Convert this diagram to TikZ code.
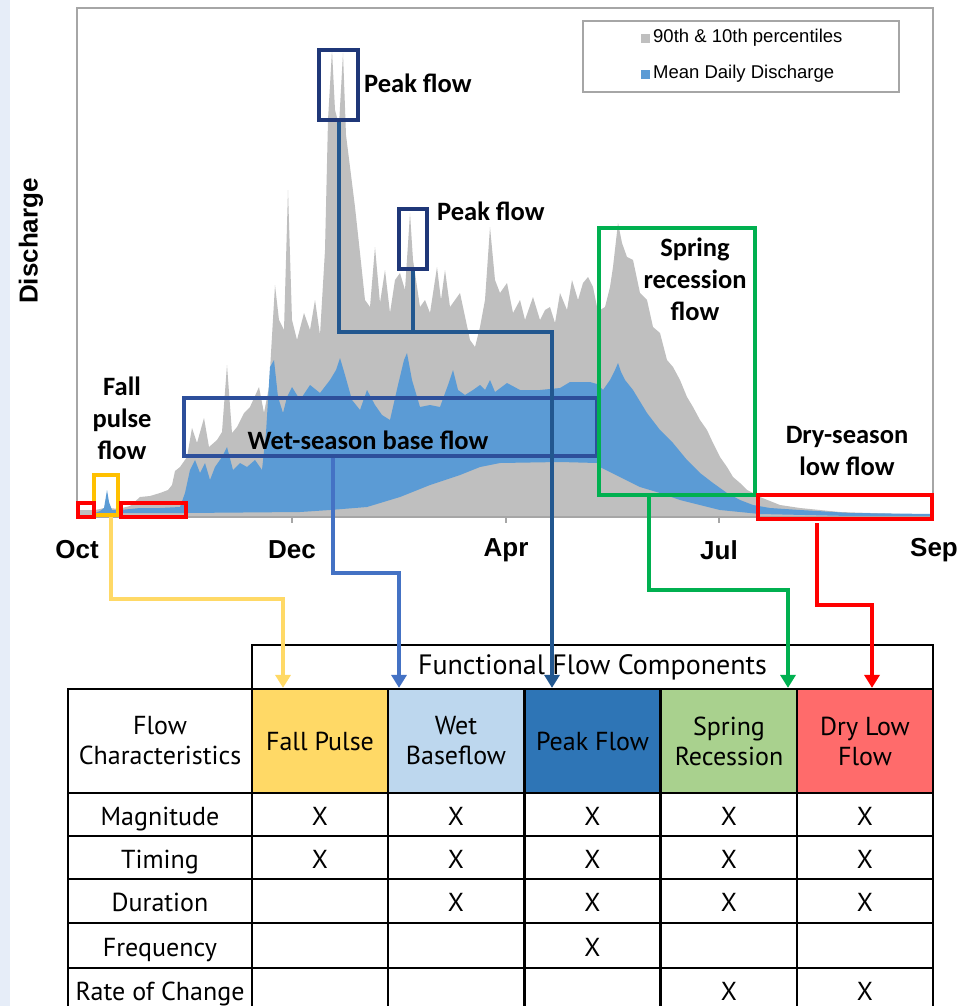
\documentclass[tikz,border=0pt]{standalone}
\usepackage{fontspec}
\setmainfont{Carlito}
\newfontfamily\arialfont{Liberation Sans}
\newfontfamily\tabfont{PT Sans}
\usetikzlibrary{arrows.meta,positioning}
\definecolor{grayfill}{HTML}{BFBFBF}
\definecolor{bluefill}{HTML}{5B9BD5}
\definecolor{framegray}{HTML}{A6A6A6}
\definecolor{navyline}{HTML}{1F3778}
\definecolor{wetline}{HTML}{2D4F9B}
\definecolor{wetarrow}{HTML}{4472C4}
\definecolor{peakline}{HTML}{22578F}
\definecolor{fallline}{HTML}{FFC000}
\definecolor{fallarrow}{HTML}{FFD966}
\definecolor{springline}{HTML}{00B050}
\definecolor{dryline}{HTML}{FF0000}
\definecolor{fallc}{HTML}{FFD966}
\definecolor{wetc}{HTML}{BDD7EE}
\definecolor{peakc}{HTML}{2E75B6}
\definecolor{springc}{HTML}{A9D18E}
\definecolor{dryc}{HTML}{FF6B6B}
\definecolor{pageblue}{HTML}{E6EDF8}
\tikzset{flowbox/.style={draw=#1, line width=3.2, inner sep=0}}
\tikzset{conn/.style={draw=#1, line width=4, -{Triangle[width=15pt,length=13pt]}}}
\tikzset{cell/.style={draw, line width=2.2, inner sep=0, align=center, font=\tabfont\fontsize{26}{30}\selectfont}}
\tikzset{rowcell/.style={cell, text height=22, text depth=1}}
\tikzset{lbl/.style={font=\bfseries\fontsize{26.5}{32}\selectfont, align=center, inner sep=0}}
\tikzset{axlbl/.style={font=\arialfont\bfseries\fontsize{26}{30}\selectfont, inner sep=0}}

\begin{document}
\begin{tikzpicture}[x=1pt, y=-1pt]
	\useasboundingbox (0,0) rectangle (959,1006);
	\fill[pageblue] (0,0) rectangle (10,1006);
	
	% hydrograph
	\fill[grayfill] plot coordinates {(77,517) (77,510) (95,510) (100,509) (104,508) (107,505) (110,508) (118,509) (130,506) (140,497) (150,496) (160,493) (168,490) (172,485) (175,471) (180,467) (187,457) (192,428) (197,443) (204,418) (209,447) (217,440) (222,432) (227,365) (232,433) (237,427) (244,413) (250,407) (259,387) (264,413) (269,387) (275,285) (279,320) (284,330) (288,190) (292,320) (297,340) (304,313) (310,330) (315,300) (320,335) (325,250) (328,120) (332,50) (335,110) (339,125) (343,53) (346,135) (350,167) (355,207) (360,253) (365,300) (370,307) (375,247) (380,303) (385,270) (390,313) (395,280) (400,273) (405,290) (410,213) (413,260) (415,273) (420,307) (425,300) (430,313) (437,267) (441,300) (445,270) (450,307) (460,293) (470,340) (475,347) (480,327) (485,300) (490,227) (495,280) (500,293) (507,283) (513,313) (520,300) (525,320) (533,297) (540,320) (545,310) (550,307) (555,323) (560,293) (567,310) (572,280) (578,300) (583,283) (588,277) (593,287) (597,307) (600,310) (605,307) (610,287) (613,267) (618,223) (622,243) (627,257) (633,260) (640,293) (647,300) (653,327) (660,333) (667,360) (673,367) (680,380) (687,397) (693,407) (700,420) (707,430) (713,443) (720,457) (727,467) (733,477) (740,483) (747,490) (753,493) (760,497) (780,505) (800,508) (840,512) (900,514) (933,515) (933,517)} -- cycle;
	\fill[bluefill] plot coordinates {(95,513) (100,511) (104,508) (107,490) (109,502) (112,510) (120,510) (140,508) (160,508) (180,507) (185,493) (190,470) (195,460) (200,473) (205,463) (210,480) (215,467) (222,457) (227,447) (233,470) (240,463) (247,467) (255,460) (262,470) (266,433) (270,367) (274,360) (278,397) (283,413) (287,397) (292,387) (300,400) (310,385) (320,393) (330,380) (336,370) (340,358) (345,375) (352,400) (360,410) (367,390) (375,405) (382,415) (390,420) (398,385) (404,360) (407,353) (412,380) (420,407) (430,405) (440,407) (448,385) (453,370) (458,390) (465,395) (473,390) (480,385) (485,390) (490,380) (495,392) (507,383) (520,390) (540,390) (560,388) (570,382) (590,382) (597,384) (603,390) (610,380) (615,370) (618,363) (621,372) (625,380) (633,390) (647,413) (660,430) (673,443) (687,460) (700,473) (713,483) (727,493) (740,500) (753,505) (770,508) (800,510) (850,513) (933,514) (933,516) (850,516) (760,514) (740,512) (720,510) (700,505) (680,500) (660,493) (640,487) (620,477) (600,467) (597,463) (560,462) (500,463) (480,467) (460,475) (430,485) (400,497) (367,507) (330,510) (300,512) (185,513) (120,513) (95,514)} -- cycle;
	
	% frame, axis and legend
	\draw[framegray, line width=1.2] (77,517) -- (77,8) -- (933,8) -- (933,517);
	\draw[framegray, line width=1.5] (77,517) -- (933,517);
	\foreach \x in {292,506,719}
		\draw[framegray, line width=1.2] (\x,517) -- (\x,523);
	\foreach \n/\x in {Oct/77,Dec/292,Apr/506,Jul/719,Sep/934}
		\node[axlbl] (m\n) at (\x,550) {\n};
	\node[axlbl, rotate=90] (ylab) at (31,241) {Discharge};
	\node[draw=framegray, line width=1.2, minimum width=316, minimum height=71, inner sep=0] (leg) at (741,56.5) {};
	\fill[grayfill] (641,34) rectangle (650,43);
	\fill[bluefill] (641,70) rectangle (650,79);
	\node[anchor=west, inner sep=0, font=\arialfont\fontsize{18.5}{22}\selectfont] (leg1) at (653,38) {90th \& 10th percentiles};
	\node[anchor=west, inner sep=0, font=\arialfont\fontsize{18.5}{22}\selectfont] (leg2) at (653,74) {Mean Daily Discharge};
	
	% flow component boxes
	\node[flowbox=navyline, minimum width=39, minimum height=70] (PF1) at (338.5,85) {};
	\node[flowbox=navyline, minimum width=28, minimum height=60] (PF2) at (413,239) {};
	\node[flowbox=wetline, minimum width=413, minimum height=58] (WB) at (390.5,427) {};
	\node[flowbox=springline, minimum width=156, minimum height=267] (SR) at (677,361.5) {};
	\node[flowbox=fallline, minimum width=24, minimum height=40] (FP) at (106,495) {};
	\node[flowbox=dryline, minimum width=16, minimum height=14] (DLa) at (86,510) {};
	\node[flowbox=dryline, minimum width=65, minimum height=14] (DLb) at (153.5,510) {};
	\node[flowbox=dryline, minimum width=174, minimum height=24] (DL) at (845,507) {};
	
	\node[lbl, anchor=west] (tPF1) at (364,83) {Peak flow};
	\node[lbl, anchor=west] (tPF2) at (437,211) {Peak flow};
	\node[lbl] (tWB) at (368,440) {Wet-season base flow};
	\node[lbl] (tSR) at (695,279) {Spring\\recession\\flow};
	\node[lbl] (tFP) at (122,418) {Fall\\pulse\\flow};
	\node[lbl] (tDL) at (847,451) {Dry-season\\low flow};
	
	% table
	\node[cell, minimum width=681, minimum height=44, font=\tabfont\fontsize{28}{32}\selectfont] (FFC) at (592.5,667) {Functional Flow Components};
	\node[cell, minimum width=184, minimum height=104] (FChar) at (160,741) {Flow\\Characteristics};
	\foreach \n/\x/\c/\t in {H1/320/fallc/Fall Pulse, H2/456/wetc/Wet\\Baseflow, H3/592.5/peakc/Peak Flow, H4/729/springc/Spring\\Recession, H5/865/dryc/Dry Low\\Flow}
		\node[cell, fill=\c, minimum width=136, minimum height=104] (\n) at (\x,741) {\t};
	\foreach \i/\y/\h/\txt/\ma/\mb/\mc/\md/\me in {1/814.5/43/Magnitude/X/X/X/X/X, 2/857.5/43/Timing/X/X/X/X/X, 3/901/44/Duration/{}/X/X/X/X, 4/945.5/45/Frequency/{}/{}/X/{}/{}, 5/990/44/Rate of Change/{}/{}/{}/X/X}{
		\node[rowcell, minimum width=184, minimum height=\h] (R\i) at (160,\y) {\txt};
		\node[rowcell, minimum width=136, minimum height=\h] (R\i a) at (320,\y) {\ma};
		\node[rowcell, minimum width=136, minimum height=\h] (R\i b) at (456,\y) {\mb};
		\node[rowcell, minimum width=136, minimum height=\h] (R\i c) at (592.5,\y) {\mc};
		\node[rowcell, minimum width=136, minimum height=\h] (R\i d) at (729,\y) {\md};
		\node[rowcell, minimum width=136, minimum height=\h] (R\i e) at (865,\y) {\me};
	}
	
	% connectors
	\coordinate (fpbend) at (283,599);
	\coordinate (wbbend) at (399,573);
	\coordinate (pfbend) at (552,332);
	\coordinate (srbend) at (788,590);
	\coordinate (dltop) at (817,523);
	\coordinate (dlbend) at (872,605);
	\draw[conn=fallarrow] ([xshift=5]FP.south) |- (fpbend) -- (fpbend |- H1.north);
	\draw[conn=wetarrow] ([xshift=-57.5]WB.south) |- (wbbend) -- (wbbend |- H2.north);
	\draw[conn=peakline, -] (PF2.south) -- (PF2.south |- pfbend);
	\draw[conn=peakline] (PF1.south) |- (pfbend) -- (pfbend |- H3.north);
	\draw[conn=springline] ([xshift=-28]SR.south) |- (srbend) -- (srbend |- H4.north);
	\draw[conn=dryline] (dltop) |- (dlbend) -- (dlbend |- H5.north);
\end{tikzpicture}
\end{document}
